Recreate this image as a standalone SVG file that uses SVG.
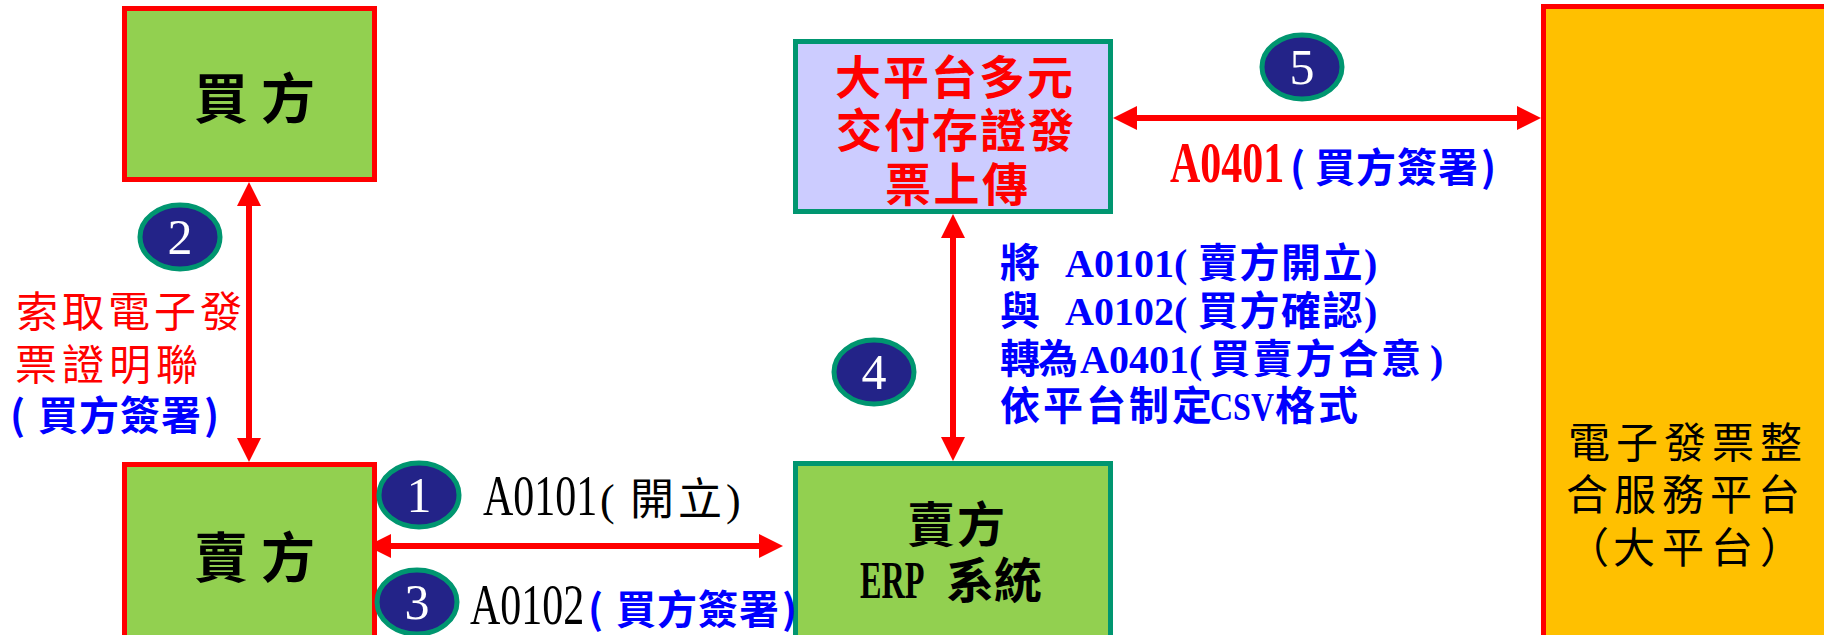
<svg xmlns="http://www.w3.org/2000/svg" width="1824" height="635" viewBox="0 0 1824 635">
<defs>
<style>
.g{fill:#92D050;stroke:#FF0000;stroke-width:5}
.gt{fill:#92D050;stroke:#009670;stroke-width:5}
.num{fill:#232388;stroke:#009670;stroke-width:5}
.numt{font-family:"Liberation Serif",serif;font-size:50px;fill:#FFFFFF;text-anchor:middle}
.cjkb{font-family:"Noto Sans CJK TC",sans-serif;font-weight:bold}
.cj{font-family:"Noto Sans CJK TC",sans-serif}
.lat{font-family:"Liberation Serif",serif}
.code{font-family:"Liberation Serif",serif;font-size:56px}
.conn{stroke:#FF0000;stroke-width:6;fill:none;marker-start:url(#ah);marker-end:url(#ah)}
</style>
<marker id="ah" viewBox="0 -12 24 24" refX="0" refY="0" markerWidth="24" markerHeight="24" markerUnits="userSpaceOnUse" orient="auto-start-reverse">
<path d="M0,-12 L24,0 L0,12 Z" fill="#FF0000"/>
</marker>
</defs>
<rect width="1824" height="635" fill="#FFFFFF"/>

<g id="connectors">
<line class="conn" x1="391" y1="546" x2="759" y2="546"/>
<line class="conn" x1="249" y1="206" x2="249" y2="438"/>
<line class="conn" x1="953" y1="238" x2="953" y2="437"/>
<line class="conn" x1="1137" y1="118" x2="1517" y2="118"/>
</g>

<g id="buyer">
<rect class="g" x="124.5" y="8.5" width="250" height="171"/>
<text class="cjkb" x="194" y="119" font-size="54" letter-spacing="13" fill="#000000">買方</text>
</g>

<g id="seller">
<rect class="g" x="124.5" y="464.5" width="250" height="200"/>
<text class="cjkb" x="194" y="578" font-size="54" letter-spacing="13" fill="#000000">賣方</text>
</g>

<g id="seller-erp">
<rect class="gt" x="795.5" y="463.5" width="315" height="200"/>
<text class="cjkb" x="907" y="542" font-size="48" letter-spacing="2" fill="#000000">賣方</text>
<text class="lat" transform="translate(860,598) scale(0.62,1)" font-size="52" font-weight="bold" fill="#000000">ERP</text>
<text class="cjkb" x="946" y="598" font-size="48" fill="#000000">系統</text>
</g>

<g id="upload">
<rect x="795.5" y="41.5" width="315" height="170" fill="#CCCCFF" stroke="#009670" stroke-width="5"/>
<text class="cjkb" x="835" y="94" font-size="46" letter-spacing="2" fill="#FF0000">大平台多元</text>
<text class="cjkb" x="836" y="147" font-size="46" letter-spacing="2" fill="#FF0000">交付存證發</text>
<text class="cjkb" x="885" y="201" font-size="46" letter-spacing="2.5" fill="#FF0000">票上傳</text>
</g>

<g id="platform">
<rect x="1543.5" y="6.5" width="320" height="700" fill="#FFC000" stroke="#FF0000" stroke-width="5"/>
<text class="cj" x="1568" y="458" font-size="42" letter-spacing="6" fill="#000000">電子發票整</text>
<text class="cj" x="1566" y="510" font-size="42" letter-spacing="6" fill="#000000">合服務平台</text>
<text class="cj" y="563" font-size="42" fill="#000000"><tspan x="1567">（</tspan><tspan x="1613" letter-spacing="7">大平台</tspan><tspan>）</tspan></text>
</g>

<g id="step2-label">
<text class="cj" x="16" y="327" font-size="42" letter-spacing="4" fill="#FF0000">索取電子發</text>
<text class="cj" x="15" y="380" font-size="42" letter-spacing="5" fill="#FF0000">票證明聯</text>
<text class="cjkb" y="430" font-size="40" fill="#0000FF"><tspan x="10">(</tspan><tspan x="38" letter-spacing="1">買方簽署</tspan><tspan dx="2">)</tspan></text>
</g>

<g id="step1-label">
<text class="code" transform="translate(483,515) scale(0.75,1)" fill="#000000">A0101</text>
<text y="515" font-size="44" fill="#000000"><tspan x="600" class="lat">(</tspan><tspan x="630" class="cj" letter-spacing="4">開立</tspan><tspan class="lat">)</tspan></text>
</g>

<g id="step3-label">
<text class="code" transform="translate(470,624) scale(0.75,1)" fill="#000000">A0102</text>
<text class="cjkb" y="624" font-size="40" fill="#0000FF"><tspan x="588">(</tspan><tspan x="616" letter-spacing="1">買方簽署</tspan><tspan dx="2">)</tspan></text>
</g>

<g id="step4-label" fill="#0000FF" font-weight="bold" font-size="40">
<text y="277"><tspan x="1000" class="cjkb">將 </tspan><tspan x="1065" class="lat">A0101(</tspan><tspan x="1198" class="cjkb" letter-spacing="1.5">賣方開立</tspan><tspan class="lat">)</tspan></text>
<text y="325"><tspan x="1000" class="cjkb">與 </tspan><tspan x="1065" class="lat">A0102(</tspan><tspan x="1198" class="cjkb" letter-spacing="1.5">買方確認</tspan><tspan class="lat">)</tspan></text>
<text y="373"><tspan x="1000" class="cjkb" letter-spacing="-2">轉為</tspan><tspan x="1080" class="lat">A0401(</tspan><tspan x="1210" class="cjkb" letter-spacing="2.75">買賣方合意</tspan><tspan x="1430" class="lat">)</tspan></text>
<text class="cjkb" x="1000" y="420" letter-spacing="3">依平台制定</text>
<text class="lat" transform="translate(1210,420) scale(0.8,1)">CSV</text>
<text class="cjkb" x="1275" y="420" letter-spacing="3">格式</text>
</g>

<g id="step5-label">
<text class="code" transform="translate(1170,182) scale(0.75,1)" font-weight="bold" fill="#FF0000">A0401</text>
<text class="cjkb" y="182" font-size="40" fill="#0000FF"><tspan x="1290">(</tspan><tspan x="1315" letter-spacing="1">買方簽署</tspan><tspan dx="2">)</tspan></text>
</g>

<g id="badge1"><ellipse class="num" cx="419" cy="495" rx="40" ry="32"/><text class="numt" x="419" y="512">1</text></g>
<g id="badge2"><ellipse class="num" cx="180" cy="237" rx="40" ry="32"/><text class="numt" x="180" y="254">2</text></g>
<g id="badge3"><ellipse class="num" cx="417" cy="602" rx="40" ry="32"/><text class="numt" x="417" y="619">3</text></g>
<g id="badge4"><ellipse class="num" cx="874" cy="372" rx="40" ry="32"/><text class="numt" x="874" y="389">4</text></g>
<g id="badge5"><ellipse class="num" cx="1302" cy="67" rx="40" ry="32"/><text class="numt" x="1302" y="84">5</text></g>
</svg>
